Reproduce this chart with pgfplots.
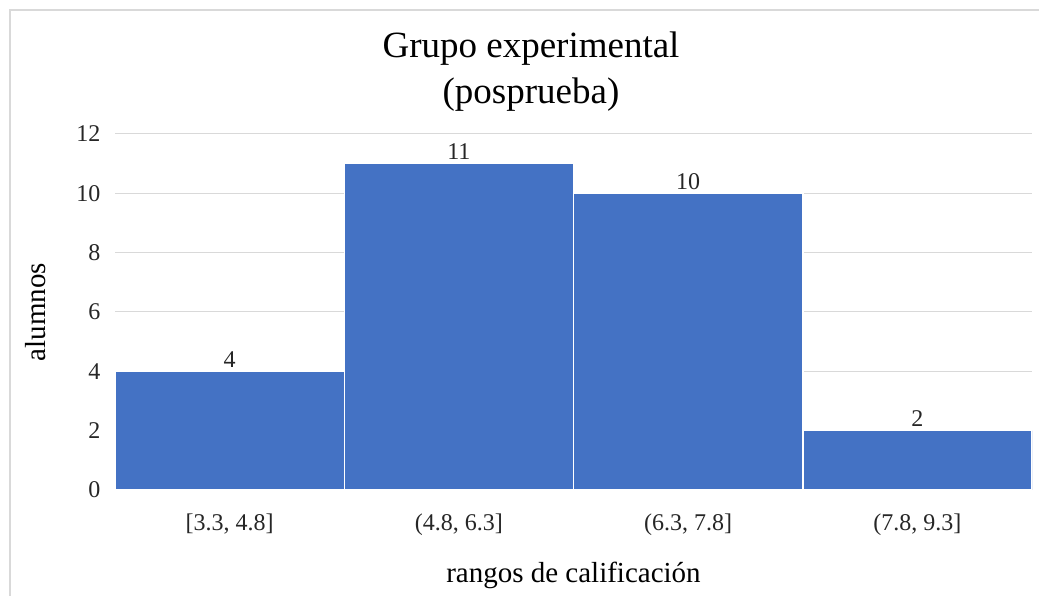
\documentclass[border=0pt]{standalone}
\usepackage{pgfplots}
\pgfplotsset{compat=1.18}
\usepackage{fontspec}
\setmainfont{Liberation Serif}
\definecolor{barblue}{HTML}{4472C4}
\definecolor{gridgray}{HTML}{D9D9D9}
\begin{document}
\begin{tikzpicture}
\path[use as bounding box] (0pt,0pt) rectangle (1039pt,596pt);
\draw[gridgray, line width=1.5pt] (10pt,-10pt) rectangle (1050pt,586pt);
\begin{axis}[
  at={(115pt,106pt)}, anchor=south west,
  scale only axis, width=917pt, height=356pt,
  ymin=0, ymax=12, ytick={0,2,...,12},
  xmin=-0.5, xmax=3.5, xtick={0,1,2,3},
  xticklabels={{[3.3, 4.8]},{(4.8, 6.3]},{(6.3, 7.8]},{(7.8, 9.3]}},
  /pgf/number format/assume math mode=true,
  ymajorgrids, grid style={gridgray, line width=1pt},
  axis lines*=left,
  y axis line style={draw=none},
  x axis line style={gridgray, line width=1pt},
  major tick length=0pt,
  tick label style={font=\fontsize{24}{28}\selectfont, text=black!85},
  yticklabel style={xshift=-11pt},
  xticklabel style={yshift=-20pt},
  xlabel={rangos de calificación},
  ylabel={alumnos},
  label style={font=\fontsize{29}{34}\selectfont},
  xlabel style={yshift=-20pt},
  ylabel style={yshift=24pt},
  nodes near coords,
  nodes near coords style={font=\fontsize{24}{28}\selectfont, text=black!85},
]
\addplot[ybar, bar width=1, fill=barblue, draw=white, line width=1.5pt]
  coordinates {(0,4) (1,11) (2,10) (3,2)};
\end{axis}
\node[align=center, font=\fontsize{37}{46}\selectfont] at (531pt,524pt) {Grupo experimental\\(posprueba)};
\end{tikzpicture}
\end{document}
